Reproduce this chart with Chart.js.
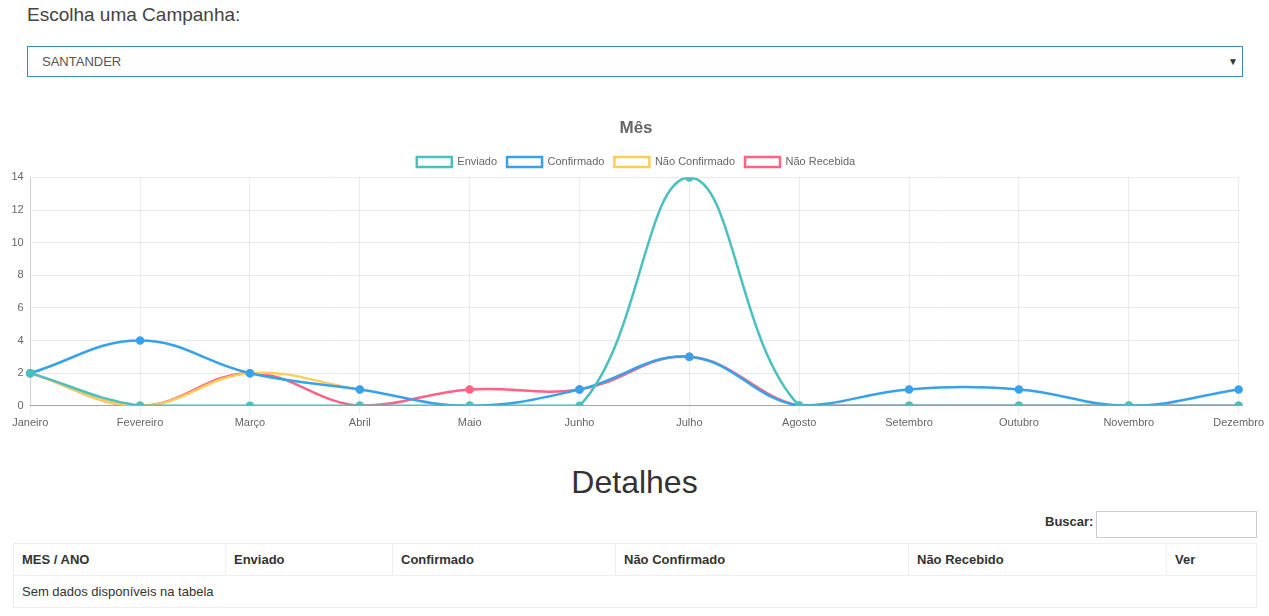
<!DOCTYPE html>
<html>
<head>
<meta charset="utf-8">
<script src="https://cdn.jsdelivr.net/npm/chart.js@4/dist/chart.umd.min.js"></script>
<style>
	body { margin: 0; background: #fff; font-family: "Liberation Sans", Arial, sans-serif; color: #333; width: 1269px; height: 616px; overflow: hidden; position: relative; }
	#label { position: absolute; left: 27px; top: 4px; font-size: 19px; color: #444; }
	#campanha { position: absolute; left: 27px; top: 46px; width: 1214px; height: 29px; border: 1px solid #3c8dbc; font-size: 13px; color: #555; line-height: 29px; box-sizing: content-box; }
	#campanha span { position: absolute; left: 14px; }
	#campanha i { position: absolute; right: 4px; font-style: normal; font-size: 10px; color: #333; }
	#wrap { position: absolute; left: 5px; top: 106px; width: 1262px; height: 327px; }
	#detalhes { position: absolute; left: 0; width: 1269px; top: 464px; text-align: center; font-size: 32px; color: #333; }
	#buscar { position: absolute; left: 1045px; top: 514px; font-size: 13px; font-weight: bold; }
	#busca { position: absolute; left: 1096px; top: 511px; width: 159px; height: 25px; border: 1px solid #ccc; }
	table { position: absolute; left: 13px; top: 543px; width: 1244px; border-collapse: collapse; font-size: 13px; }
	th, td { border: 1px solid #eee; height: 31px; padding: 0 8px; text-align: left; color: #333; }
	th { font-weight: bold; }
</style>
</head>
<body>
<div id="label">Escolha uma Campanha:</div>
<div id="campanha"><span>SANTANDER</span><i>▼</i></div>
<div id="wrap"><canvas id="chart"></canvas></div>
<div id="detalhes">Detalhes</div>
<div id="buscar">Buscar:</div>
<div id="busca"></div>
<table>
	<tr>
		<th style="width:195px">MES / ANO</th>
		<th style="width:150px">Enviado</th>
		<th style="width:206px">Confirmado</th>
		<th style="width:276px">Não Confirmado</th>
		<th style="width:241px">Não Recebido</th>
		<th>Ver</th>
	</tr>
	<tr><td colspan="6">Sem dados disponíveis na tabela</td></tr>
</table>
<script>
var meses = ["Janeiro", "Fevereiro", "Março", "Abril", "Maio", "Junho",
	"Julho", "Agosto", "Setembro", "Outubro", "Novembro", "Dezembro"]

var enviado = [2, 0, 0, 0, 0, 0, 14, 0, 0, 0, 0, 0]
var confirmado = [2, 4, 2, 1, 0, 1, 3, 0, 1, 1, 0, 1]
var naoConfirmado = [2, 0, 2, 1]
var naoRecebida = [2, 0, 2, 0, 1, 1, 3, 0, 0, 0, 0, 0]

var fonte = '"Liberation Sans", Arial, sans-serif'

function serie(label, data, cor) {
	return {
		label: label,
		data: data,
		borderColor: cor,
		backgroundColor: 'rgba(255,255,255,0)',
		pointBackgroundColor: cor,
		pointBorderColor: cor,
		pointRadius: 3,
		pointBorderWidth: 2.5,
		borderWidth: 2.5,
		tension: 0.4,
		fill: false,
	}
}

let chart = new Chart(document.getElementById("chart"), {
	type: 'line',
	data: {
		labels: meses,
		datasets: [
			serie('Enviado', enviado, 'rgb(75, 192, 192)'),
			serie('Confirmado', confirmado, 'rgb(54, 162, 235)'),
			serie('Não Confirmado', naoConfirmado, 'rgb(255, 205, 86)'),
			serie('Não Recebida', naoRecebida, 'rgb(255, 99, 132)'),
		],
	},
	options: {
		animation: false,
		responsive: true,
		maintainAspectRatio: false,
		plugins: {
			title: {
				display: true,
				text: 'Mês',
				color: '#666',
				padding: { top: 12, bottom: 8 },
				font: { size: 17, weight: 'bold', family: fonte },
			},
			legend: {
				labels: {
					boxWidth: 35,
					boxHeight: 10,
					color: '#666',
					font: { size: 11, family: fonte },
				},
			},
		},
		scales: {
			x: {
				grid: { color: 'rgba(0,0,0,0.08)', tickLength: 8 },
				border: { color: 'rgba(0,0,0,0.3)' },
				ticks: { color: '#666', autoSkip: false, maxRotation: 0, font: { size: 11, family: fonte } },
			},
			y: {
				min: 0,
				max: 14,
				grid: { color: 'rgba(0,0,0,0.08)', drawTicks: false },
				border: { color: 'rgba(0,0,0,0.12)' },
				ticks: { stepSize: 2, padding: 6.5, color: '#666', font: { size: 11, family: fonte } },
			},
		},
	},
});
</script>
</body>
</html>
